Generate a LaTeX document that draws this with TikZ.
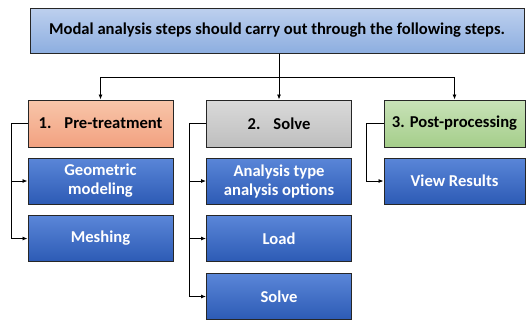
\documentclass[tikz,border=0pt]{standalone}
\usepackage{fontspec}
\setmainfont{Carlito}
\usepackage{tikz}
\usetikzlibrary{positioning,arrows.meta}

\definecolor{headtop}{HTML}{BDD0EE}
\definecolor{headbot}{HTML}{8DAEE0}
\definecolor{pretop}{HTML}{F8C6AA}
\definecolor{prebot}{HTML}{F2A180}
\definecolor{soltop}{HTML}{DADADA}
\definecolor{solbot}{HTML}{BEBEBE}
\definecolor{posttop}{HTML}{C8E2B8}
\definecolor{postbot}{HTML}{A5CE8A}
\definecolor{subtop}{HTML}{5A86D8}
\definecolor{subbot}{HTML}{2D5BB5}

\tikzset{
  box/.style={draw=black!85,line width=1pt,rectangle,minimum height=46pt,
    align=center,font=\fontsize{16.6}{19}\selectfont\bfseries,inner sep=2pt},
  head/.style={box,top color=headtop,bottom color=headbot,minimum width=494pt,minimum height=45pt},
  stage/.style={box,minimum width=145pt,minimum height=47pt},
  substep/.style={box,top color=subtop,bottom color=subbot,text=white,minimum width=145pt},
  conn/.style={line width=0.8pt,-{Latex[length=5pt,width=4pt]}}
}

\begin{document}
\begin{tikzpicture}[x=1pt,y=-1pt]
\useasboundingbox (0,0) rectangle (526,322);
\node[head] (head) at (277,30.5) {Modal analysis steps should carry out through the following steps.};
% stages
\node[stage,top color=pretop,bottom color=prebot] (pre) at (100.5,123.5) {1.\hspace{13pt}Pre-treatment};
\node[stage,top color=soltop,bottom color=solbot] (solve) at (279,123.5) {2.\hspace{13pt}Solve};
\node[stage,top color=posttop,bottom color=postbot,minimum width=141pt] (post) at (454.5,123.5) {3. Post-processing};
% sub steps
\node[substep] (geo) at (100.5,181) {Geometric\\modeling};
\node[substep] (mesh) at (100.5,238.5) {Meshing};
\node[substep] (atype) at (279,181) {Analysis type\\analysis options};
\node[substep] (load) at (279,238.5) {Load};
\node[substep] (solver) at (279,296.5) {Solve};
\node[substep,minimum width=141pt] (view) at (454.5,181) {View Results};
% connectors
\coordinate (fork) at (279,77);
\draw[line width=0.8pt] (head.south -| fork) -- (fork);
\draw[line width=0.8pt] (fork -| pre.north) -- (fork -| post.north);
\draw[conn] (fork -| pre.north) -- (pre.north);
\draw[conn] (fork) -- (solve.north);
\draw[conn] (fork -| post.north) -- (post.north);
\draw[conn] (pre.west) -- ++(-16,0) |- (geo.west);
\draw[conn] (pre.west) -- ++(-16,0) |- (mesh.west);
\draw[conn] (solve.west) -- ++(-17,0) |- (atype.west);
\draw[conn] (solve.west) -- ++(-17,0) |- (load.west);
\draw[conn] (solve.west) -- ++(-17,0) |- (solver.west);
\draw[conn] (post.west) -- ++(-17,0) |- (view.west);
\end{tikzpicture}
\end{document}
